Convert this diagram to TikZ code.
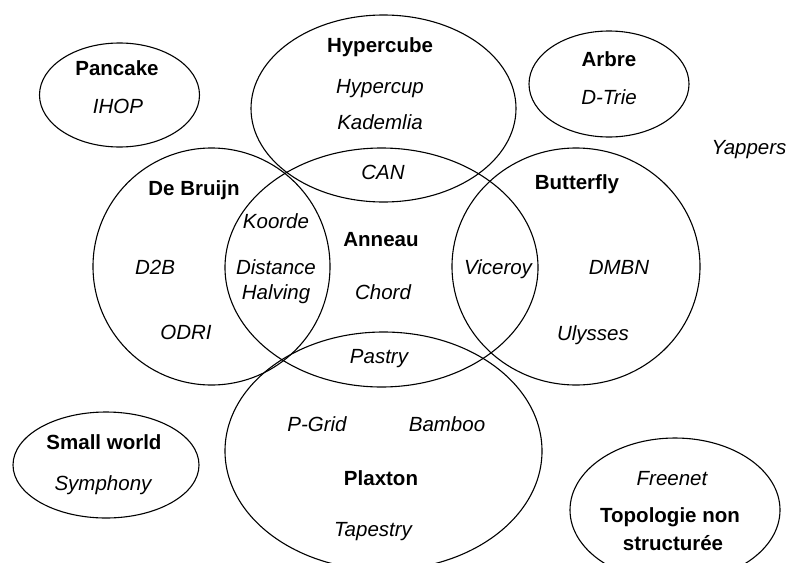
\documentclass[tikz,border=0pt]{standalone}
\usepackage{fontspec}
\setmainfont{Liberation Sans}
\usetikzlibrary{shapes.geometric}
\begin{document}
\begin{tikzpicture}[x=1pt,y=-1pt,
  set/.style={draw, ellipse, line width=1.1pt, inner sep=0pt},
  cat/.style={font=\fontsize{20.5}{24}\selectfont\bfseries, inner sep=0pt, text height=14.8pt, text depth=0pt, align=center},
  item/.style={font=\fontsize{20.5}{24}\selectfont\itshape, inner sep=0pt, text height=14.8pt, text depth=0pt}]
\useasboundingbox (0,0) rectangle (791,562);
\clip (0,0) rectangle (791,562);
% sets
\node[set, minimum width=160pt, minimum height=104pt] (pancake) at (119.5,95) {};
\node[set, minimum width=265pt, minimum height=187pt] (hypercube) at (383.5,108.5) {};
\node[set, minimum width=160pt, minimum height=106pt] (arbre) at (609,84) {};
\node[set, minimum width=313pt, minimum height=239pt] (anneau) at (381.5,267.5) {};
\node[set, minimum width=237pt, minimum height=237pt] (debruijn) at (211.5,266.5) {};
\node[set, minimum width=248pt, minimum height=237pt] (butterfly) at (576,266.5) {};
\node[set, minimum width=317pt, minimum height=238pt] (plaxton) at (383.5,451) {};
\node[set, minimum width=186pt, minimum height=106pt] (smallworld) at (106,465) {};
\node[set, minimum width=210pt, minimum height=144pt] (nonstruct) at (675,510) {};
% labels
\node[cat] (tPancake) at (117,68) {Pancake};
\node[item] (tIHOP) at (118,106) {IHOP};
\node[cat] (tHypercube) at (380,45) {Hypercube};
\node[item] (tHypercup) at (380,86) {Hypercup};
\node[item] (tKademlia) at (380,122) {Kademlia};
\node[item] (tCAN) at (383,172) {CAN};
\node[cat] (tArbre) at (609,59) {Arbre};
\node[item] (tDTrie) at (609,97) {D-Trie};
\node[item] (tYappers) at (749,147) {Yappers};
\node[cat] (tDeBruijn) at (194,188) {De Bruijn};
\node[item] (tD2B) at (155,267) {D2B};
\node[item] (tODRI) at (186,332) {ODRI};
\node[item] (tKoorde) at (276,221) {Koorde};
\node[item] (tDistance) at (276,267) {Distance};
\node[item] (tHalving) at (276,292) {Halving};
\node[cat] (tAnneau) at (381,239) {Anneau};
\node[item] (tChord) at (383,292) {Chord};
\node[item] (tPastry) at (379,356) {Pastry};
\node[cat] (tButterfly) at (577,182) {Butterfly};
\node[item] (tViceroy) at (498,267) {Viceroy};
\node[item] (tDMBN) at (619,267) {DMBN};
\node[item] (tUlysses) at (593,333) {Ulysses};
\node[item] (tPGrid) at (317,424) {P-Grid};
\node[item] (tBamboo) at (447,424) {Bamboo};
\node[cat] (tPlaxton) at (381,478) {Plaxton};
\node[item] (tTapestry) at (373,529) {Tapestry};
\node[cat] (tSmallworld) at (104,442) {Small world};
\node[item] (tSymphony) at (103,483) {Symphony};
\node[item] (tFreenet) at (672,478) {Freenet};
\node[cat] (tTopologie) at (670,515) {Topologie non};
\node[cat] (tStructuree) at (673,543) {structurée};
\end{tikzpicture}
\end{document}
